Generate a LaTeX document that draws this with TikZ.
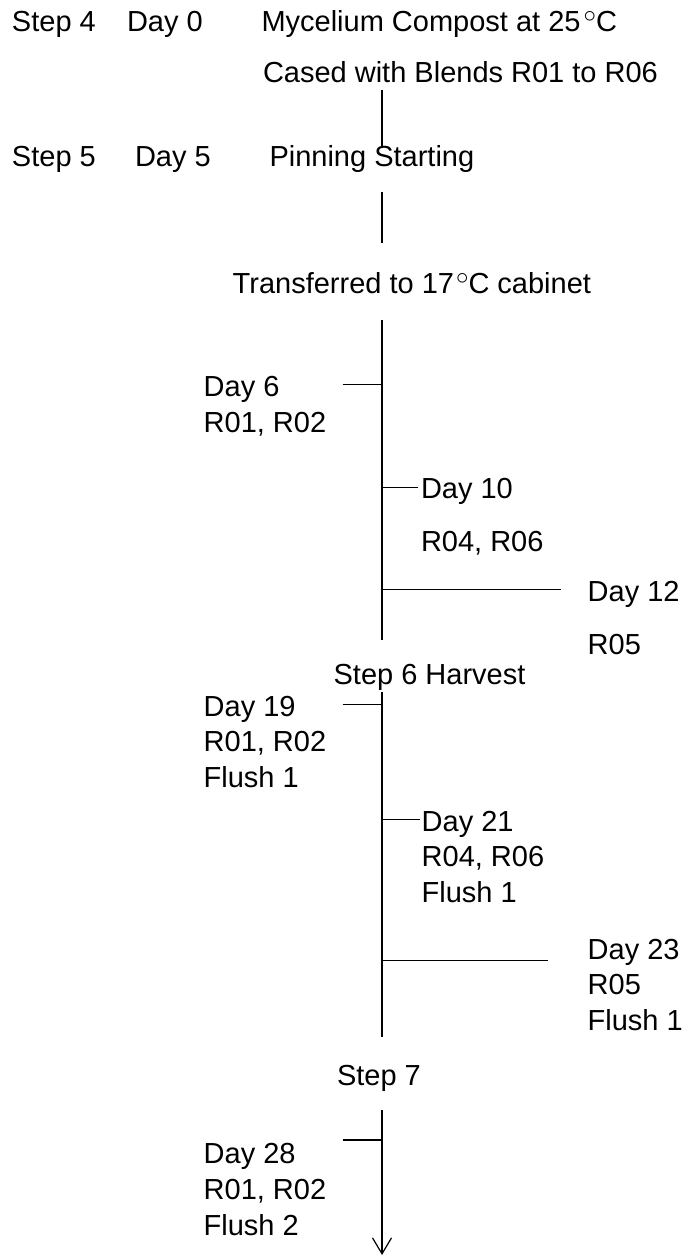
\documentclass[tikz,border=0pt]{standalone}
\usepackage{fontspec}
\setmainfont{Liberation Sans}
\usetikzlibrary{arrows.meta}
\newcommand{\degsym}{\raisebox{8.5pt}{\fontsize{28}{28}\selectfont$\circ$}}
\begin{document}
\begin{tikzpicture}[x=1pt,y=-1pt,
  lbl/.style={anchor=base west,inner sep=0pt,outer sep=0pt,font=\fontsize{29}{34}\selectfont},
  ln/.style={line width=1.2pt,black}]
\useasboundingbox (0,0) rectangle (686,1257);
% top block
\node[lbl] (s4) at (12,31.5) {Step 4};
\node[lbl] (d0) at (127,31.5) {Day 0};
\node[lbl] (myc) at (261.5,31.5) {Mycelium Compost at 25\kern3pt\degsym C};
\node[lbl] (cased) at (263,82.5) {Cased with Blends R01 to R06};
\coordinate (a1) at (382,90);
\coordinate (a2) at (382,148);
\draw[ln] (a1) -- (a2);
\node[lbl] (s5) at (12,166.7) {Step 5};
\node[lbl] (d5) at (135,166.7) {Day 5};
\node[lbl] (pin) at (269.5,166.7) {Pinning Starting};
\coordinate (b1) at (382,191.7);
\coordinate (b2) at (382,243.5);
\draw[ln] (b1) -- (b2);
\node[lbl] (trans) at (232.7,293.3) {Transferred to 17\kern2pt\degsym C cabinet};
% main line 1
\coordinate (m1) at (382,320);
\coordinate (m2) at (382,640);
\draw[ln] (m1) -- (m2);
\coordinate (t6a) at (342.5,384.5);  \coordinate (t6b) at (382,384.5);
\draw[ln] (t6a) -- (t6b);
\node[lbl] (d6) at (203.7,396) {Day 6};
\node[lbl] (d6r) at (203.7,432.3) {R01, R02};
\coordinate (t10a) at (382,487.3); \coordinate (t10b) at (418,487.3);
\draw[ln] (t10a) -- (t10b);
\node[lbl] (d10) at (421,498.3) {Day 10};
\node[lbl] (d10r) at (421,551.7) {R04, R06};
\coordinate (t12a) at (382,589.3); \coordinate (t12b) at (561,589.3);
\draw[ln] (t12a) -- (t12b);
\node[lbl] (d12) at (587.7,601) {Day 12};
\node[lbl] (d12r) at (587.7,654.3) {R05};
\node[lbl] (s6) at (333.6,684) {Step 6 Harvest};
% main line 2
\coordinate (n1) at (382,691.7);
\coordinate (n2) at (382,1037.3);
\draw[ln] (n1) -- (n2);
\coordinate (t19a) at (342.5,704.7); \coordinate (t19b) at (382,704.7);
\draw[ln] (t19a) -- (t19b);
\node[lbl] (d19) at (203.7,716) {Day 19};
\node[lbl] (d19r) at (203.7,751.7) {R01, R02};
\node[lbl] (d19f) at (203.7,787.7) {Flush 1};
\coordinate (t21a) at (382,819.3); \coordinate (t21b) at (420,819.3);
\draw[ln] (t21a) -- (t21b);
\node[lbl] (d21) at (421.7,831.7) {Day 21};
\node[lbl] (d21r) at (421.7,866.7) {R04, R06};
\node[lbl] (d21f) at (421.7,902.3) {Flush 1};
\coordinate (t23a) at (382,960.7); \coordinate (t23b) at (548.3,960.7);
\draw[ln] (t23a) -- (t23b);
\node[lbl] (d23) at (587.7,959) {Day 23};
\node[lbl] (d23r) at (587.7,994.3) {R05};
\node[lbl] (d23f) at (587.7,1030) {Flush 1};
\node[lbl] (s7) at (337,1085) {Step 7};
% final arrow
\coordinate (p1) at (382,1110);
\coordinate (p2) at (382,1255);
\draw[ln,-{Straight Barb[length=16pt,width=19pt,line width=1.2pt]}] (p1) -- (p2);
\coordinate (t28a) at (342.5,1140); \coordinate (t28b) at (382,1140);
\draw[ln] (t28a) -- (t28b);
\node[lbl] (d28) at (203.7,1163.3) {Day 28};
\node[lbl] (d28r) at (203.7,1199.3) {R01, R02};
\node[lbl] (d28f) at (203.7,1235) {Flush 2};
\end{tikzpicture}
\end{document}
